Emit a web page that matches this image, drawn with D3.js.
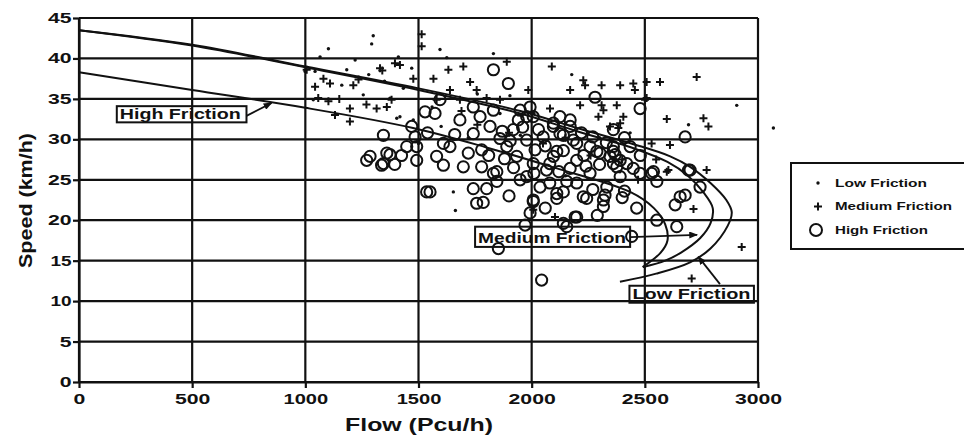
<!DOCTYPE html>
<html lang="en">
<head>
<meta charset="UTF-8">
<title>Speed-Flow Relationship by Side Friction</title>
<script src="https://d3js.org/d3.v7.min.js"></script>
<style>
    body { margin: 0; background: #fff; }
    text { font-family: "Liberation Sans", Arial, sans-serif; font-weight: bold; fill: #111; }
    .grid line { stroke: #111; stroke-width: 2.2; }
    .axis path, .axis line { stroke: #111; stroke-width: 2.2; }
</style>
</head>
<body>
<div id="chart"></div>
<script>
// Axis ticks
const flowTicks = [0, 500, 1000, 1500, 2000, 2500, 3000];
const speedTicks = [0, 5, 10, 15, 20, 25, 30, 35, 40, 45];

// Observations [flow (pcu/h), speed (km/h)]
const lowFriction = [
    [1300, 42.8], [1293, 41.8], [1102, 41.2], [1065, 40.2], [1183, 38.6], [1595, 41.1], [1625, 40.1],
    [1831, 40.6], [1043, 38.4], [1161, 36.7], [1256, 35.5], [1411, 40.2], [1470, 38.8], [1433, 36.3],
    [1374, 35.1], [1404, 32.6], [1904, 35.4], [2177, 38.0], [2435, 30.8], [2906, 34.2], [3068, 31.4],
    [2693, 31.8], [1654, 23.5], [1663, 21.2], [999, 38.4], [1035, 34.9], [1418, 32.8], [1477, 32.4],
    [1600, 31.6], [1720, 30.2], [1880, 28.4], [2060, 26.8], [2210, 28.6], [2300, 30.2], [2010, 33.2],
    [1760, 35.6], [1860, 33.2], [1560, 34.0], [1950, 30.5], [2150, 25.5], [2390, 26.0], [1500, 29.5],
    [1280, 38.0], [1350, 37.2], [1220, 39.8]
];
const mediumFriction = [
    [1514, 43.0], [1514, 41.5], [1006, 38.6], [1080, 37.5], [1109, 36.9], [1043, 36.5], [1212, 36.7],
    [1057, 35.1], [1102, 34.7], [1197, 33.8], [1197, 32.2], [1315, 33.8], [1360, 34.0], [1381, 34.9],
    [1330, 38.8], [1396, 39.4], [1477, 37.5], [1632, 38.6], [1698, 39.0], [1566, 37.5], [1728, 37.1],
    [1757, 36.1], [1639, 36.1], [1683, 34.9], [1580, 34.9], [1801, 35.1], [1890, 39.6], [1860, 34.9],
    [2089, 39.0], [1985, 36.1], [2170, 36.1], [2228, 37.3], [2236, 36.7], [2309, 36.7], [2391, 36.7],
    [2449, 36.9], [2456, 36.1], [2508, 37.1], [2567, 37.1], [2729, 37.7], [2214, 34.2], [2309, 34.2],
    [2317, 33.6], [2376, 34.2], [2295, 32.8], [2405, 32.8], [2391, 32.0], [2501, 34.9], [2081, 33.8],
    [2346, 31.6], [2597, 32.5], [2759, 32.6], [2781, 31.6], [2530, 29.5], [2611, 29.3], [2103, 20.4],
    [2715, 21.4], [2773, 26.2], [2597, 26.0], [2928, 16.7], [2707, 12.8], [2007, 21.3], [2508, 35.1],
    [2383, 31.4], [2604, 26.2], [1150, 35.0], [1235, 37.4], [1270, 34.3], [1131, 33.0], [1418, 39.2],
    [1340, 38.5], [1690, 33.5], [1760, 31.8], [1900, 30.8], [2050, 29.5], [2260, 28.0], [2150, 30.2],
    [2400, 27.5], [2470, 25.0], [2550, 27.5]
];
const highFriction = [
    [1831, 38.6], [1897, 36.9], [1529, 33.4], [1573, 33.2], [1595, 34.9], [1345, 30.5], [1485, 30.3],
    [1492, 29.1], [1448, 29.1], [1610, 29.5], [1639, 29.1], [1683, 32.4], [1742, 30.7], [1772, 32.8],
    [1816, 31.6], [1860, 30.1], [1919, 31.2], [1941, 32.4], [1779, 28.7], [1286, 27.9], [1374, 28.1],
    [1742, 34.0], [1831, 33.6], [1345, 27.0], [1360, 28.3], [1492, 27.4], [1580, 27.9], [1610, 26.8],
    [1698, 26.6], [1779, 26.6], [1846, 26.0], [1846, 24.8], [1757, 22.1], [1536, 23.5], [2007, 22.5],
    [1993, 20.9], [2111, 23.3], [2155, 24.8], [2228, 22.9], [2317, 22.5], [2332, 24.1], [2391, 27.4],
    [2302, 28.3], [2199, 27.4], [2096, 27.9], [2007, 27.0], [1934, 27.9], [1890, 29.1], [1949, 25.0],
    [1978, 25.4], [2066, 26.2], [2258, 25.8], [2125, 30.7], [2184, 29.9], [2258, 29.1], [2346, 27.9],
    [2376, 26.6], [2051, 30.3], [1978, 29.9], [2096, 32.0], [2007, 32.8], [1949, 33.6], [2125, 32.8],
    [2170, 31.6], [2361, 29.1], [1337, 26.8], [1551, 23.5], [1742, 23.9], [1801, 23.9], [1786, 22.2],
    [1831, 25.8], [1853, 16.5], [2044, 12.6], [1971, 19.4], [2192, 20.4], [2155, 19.2], [2317, 21.7],
    [2280, 35.2], [2479, 33.8], [2678, 30.3], [1993, 34.0], [1978, 32.8], [2096, 31.6], [2140, 30.5],
    [2170, 32.4], [2361, 31.2], [2199, 29.5], [2288, 28.5], [2361, 28.5], [2435, 29.1], [2015, 28.7],
    [2111, 28.5], [2007, 22.3], [2111, 22.7], [2140, 23.5], [2243, 22.7], [2324, 23.1], [2199, 20.4],
    [2140, 19.6], [2037, 24.1], [2199, 24.6], [2464, 21.5], [2553, 20.0], [2641, 19.2], [2634, 21.9],
    [2678, 23.1], [2744, 24.1], [2700, 26.2], [2553, 24.8], [2538, 26.0], [2442, 18.0], [2391, 25.4],
    [2449, 26.4], [2369, 28.1], [2361, 27.0], [2479, 25.8], [2530, 25.8], [2693, 26.2], [2656, 22.9],
    [1271, 27.4], [1870, 31.0], [1905, 29.8], [1960, 31.5], [2030, 31.2], [2060, 29.2], [2080, 27.0],
    [2140, 28.6], [2170, 26.4], [2230, 28.0], [2220, 30.8], [2270, 30.3], [2300, 26.9], [2330, 29.6],
    [2410, 30.2], [2420, 27.0], [2240, 26.7], [2120, 26.0], [2010, 25.8], [1920, 26.5], [1880, 27.6],
    [1810, 28.0], [1720, 28.3], [1660, 30.6], [1540, 30.8], [1470, 31.6], [1425, 28.0], [1395, 26.9],
    [2270, 23.8], [2410, 23.6], [2290, 20.6], [2400, 22.8], [2060, 21.5], [1900, 23.0], [2080, 24.6],
    [2480, 28.0]
];

// Fitted speed-flow curves [flow, speed]
const lowCurve = [
    [0, 43.5], [500, 41.7], [1000, 39.0], [1500, 36.3], [1950, 33.5], [2200, 31.4], [2450, 29.4],
    [2612, 27.9], [2700, 26.6], [2790, 24.6], [2860, 22.5], [2884, 21.0], [2866, 19.3], [2790, 16.5],
    [2700, 14.8], [2550, 13.4], [2390, 12.4]
];
const mediumCurve = [
    [0, 43.5], [500, 41.6], [1000, 38.9], [1500, 36.1], [1950, 33.2], [2200, 31.0], [2450, 28.9],
    [2600, 27.2], [2690, 25.5], [2760, 23.4], [2800, 21.5], [2790, 19.6], [2745, 17.8], [2660, 16.0],
    [2590, 15.0], [2492, 14.2]
];
const highCurve = [
    [0, 38.3], [500, 36.1], [1000, 33.9], [1476, 31.4], [1800, 29.0], [2100, 26.5], [2435, 23.5],
    [2540, 21.5], [2590, 19.5], [2600, 17.5], [2570, 16.0], [2490, 14.2]
];

const seriesNames = ["Low Friction", "Medium Friction", "High Friction"];

const width = 964, height = 436;
const margin = { top: 18, right: 206, bottom: 54, left: 79 };

const svg = d3.select("#chart").append("svg")
    .attr("width", width)
    .attr("height", height);

const x = d3.scaleLinear().domain([0, 3000]).range([margin.left, width - margin.right]);
const y = d3.scaleLinear().domain([0, 45]).range([height - margin.bottom, margin.top]);

// arrowhead
svg.append("defs").append("marker")
    .attr("id", "arrow")
    .attr("viewBox", "0 0 10 8")
    .attr("refX", 9).attr("refY", 4)
    .attr("markerWidth", 9).attr("markerHeight", 7)
    .attr("markerUnits", "userSpaceOnUse")
    .attr("orient", "auto")
    .append("path").attr("d", "M0,0L10,4L0,8z").attr("fill", "#111");

// gridlines
const grid = svg.append("g").attr("class", "grid");
grid.selectAll(".h").data(speedTicks).enter().append("line")
    .attr("x1", x(0)).attr("x2", x(3000))
    .attr("y1", d => y(d)).attr("y2", d => y(d));
grid.selectAll(".v").data(flowTicks).enter().append("line")
    .attr("y1", y(0)).attr("y2", y(45))
    .attr("x1", d => x(d)).attr("x2", d => x(d));

const digitWidth = s => String(s).length * 11.8 - (String(s).split("1").length - 1) * 2.5;

svg.append("g")
    .attr("class", "axis")
    .attr("transform", `translate(0,${y(0)})`)
    .call(d3.axisBottom(x).tickValues(flowTicks).tickFormat(d3.format("d"))
        .tickSize(6).tickSizeOuter(0).tickPadding(6))
    .selectAll("text")
    .style("font-size", "14px")
    .attr("textLength", d => digitWidth(d))
    .attr("lengthAdjust", "spacingAndGlyphs");

svg.append("g")
    .attr("class", "axis")
    .attr("transform", `translate(${x(0)},0)`)
    .call(d3.axisLeft(y).tickValues(speedTicks).tickFormat(d3.format("d"))
        .tickSize(6).tickSizeOuter(0).tickPadding(1.5))
    .selectAll("text")
    .style("font-size", "14px")
    .attr("textLength", d => digitWidth(d))
    .attr("lengthAdjust", "spacingAndGlyphs");

svg.selectAll(".axis .domain").attr("stroke-width", 2.5);

// axis titles
svg.append("text")
    .attr("x", 345).attr("y", 431)
    .style("font-size", "19px")
    .attr("textLength", 148).attr("lengthAdjust", "spacingAndGlyphs")
    .text("Flow (Pcu/h)");

svg.append("text")
    .attr("transform", "translate(32,268) rotate(-90)")
    .style("font-size", "19px")
    .attr("textLength", 135).attr("lengthAdjust", "spacingAndGlyphs")
    .text("Speed (km/h)");

// curves
const line = d3.line().x(d => x(d[0])).y(d => y(d[1])).curve(d3.curveCatmullRom.alpha(0.5));
[lowCurve, mediumCurve, highCurve].forEach(c => {
    svg.append("path").datum(c)
        .attr("d", line)
        .attr("fill", "none")
        .attr("stroke", "#111")
        .attr("stroke-width", 2);
});

// markers
function drawDot(g, px, py) {
    g.append("circle").attr("cx", px).attr("cy", py).attr("r", 1.7).attr("fill", "#111");
}
function drawPlus(g, px, py, s) {
    g.append("path")
        .attr("d", `M${px - s},${py}H${px + s}M${px},${py - s}V${py + s}`)
        .attr("stroke", "#111").attr("stroke-width", 2).attr("fill", "none");
}
function drawRing(g, px, py, r) {
    g.append("circle").attr("cx", px).attr("cy", py).attr("r", r)
        .attr("fill", "none").attr("stroke", "#111").attr("stroke-width", 2);
}

const pts = svg.append("g");
highFriction.forEach(d => drawRing(pts, x(d[0]), y(d[1]), 5.6));
mediumFriction.forEach(d => drawPlus(pts, x(d[0]), y(d[1]), 4));
lowFriction.forEach(d => drawDot(pts, x(d[0]), y(d[1])));

// curve labels
function boxLabel(text, f0, s0, f1, s1, len, size) {
    const x0 = x(f0), y0 = y(s0), x1 = x(f1), y1 = y(s1);
    svg.append("rect")
        .attr("x", x0).attr("y", y0).attr("width", x1 - x0).attr("height", y1 - y0)
        .attr("fill", "none").attr("stroke", "#111").attr("stroke-width", 2);
    svg.append("text")
        .attr("x", x0 + 3).attr("y", y1 - 3.5)
        .style("font-size", size + "px")
        .attr("textLength", len).attr("lengthAdjust", "spacingAndGlyphs")
        .text(text);
}
function arrow(f0, s0, f1, s1) {
    svg.append("line")
        .attr("x1", x(f0)).attr("y1", y(s0)).attr("x2", x(f1)).attr("y2", y(s1))
        .attr("stroke", "#111").attr("stroke-width", 1.8)
        .attr("marker-end", "url(#arrow)");
}

boxLabel("High Friction", 167, 34.1, 740, 32.1, 121, 14);
arrow(740, 32.9, 851, 34.5);
boxLabel("Medium Friction", 1750, 19.2, 2435, 16.7, 148, 14);
arrow(2435, 17.9, 2731, 18.2);
boxLabel("Low Friction", 2432, 11.9, 2982, 9.8, 118, 14);
arrow(2832, 12.1, 2736, 15.5);

// legend
const legend = svg.append("g");
legend.append("rect")
    .attr("x", 791).attr("y", 163).attr("width", 190).attr("height", 86)
    .attr("fill", "none").attr("stroke", "#111").attr("stroke-width", 2);

const legendLen = [92, 117, 93];
seriesNames.forEach((name, i) => {
    const ly = 183 + i * 23.5;
    if (i === 0) drawDot(legend, 818, ly);
    if (i === 1) drawPlus(legend, 818, ly, 4);
    if (i === 2) drawRing(legend, 816, ly, 6);
    legend.append("text")
        .attr("x", 835).attr("y", ly + 3.5)
        .style("font-size", "10px")
        .attr("textLength", legendLen[i]).attr("lengthAdjust", "spacingAndGlyphs")
        .text(name);
});
</script>
</body>
</html>
